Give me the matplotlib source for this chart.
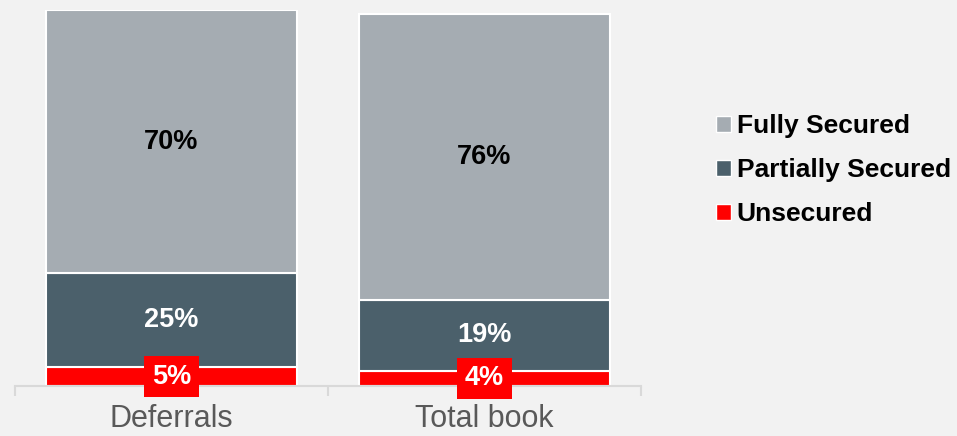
import matplotlib
matplotlib.use("Agg")
import matplotlib.pyplot as plt
from matplotlib.patches import Patch
import numpy as np

categories = ["Deferrals", "Total book"]
series_names = ["Unsecured", "Partially Secured", "Fully Secured"]
unsecured = [5, 4]
partially = [25, 19]
fully = [70, 76]

colors = {"Unsecured": "#ff0000", "Partially Secured": "#4b606b", "Fully Secured": "#a5acb2"}
bg = "#f2f2f2"
font = ["Liberation Sans", "DejaVu Sans"]
plt.rcParams["font.family"] = font

fig = plt.figure(figsize=(9.57, 4.36), dpi=100, facecolor=bg)
ax = fig.add_axes([15/957, 50/436, 626/957, 376/436], facecolor=bg)

x = np.arange(len(categories))
width = 0.8
bottom = np.zeros(len(categories))
series = [unsecured, partially, fully]
for name, vals in zip(series_names, series):
    vals = np.array(vals, dtype=float)
    ax.bar(x, vals, width, bottom=bottom, color=colors[name],
           edgecolor="white", linewidth=1.5, label=name, zorder=2)
    for xi, v, b in zip(x, vals, bottom):
        yc = b + v / 2
        if name == "Unsecured":
            ax.text(xi, yc, f"{int(v)}%", ha="center", va="center", color="white",
                    fontsize=19.5, fontweight="bold", zorder=5,
                    bbox=dict(boxstyle="square,pad=0.28", fc="#ff0000", ec="none"))
        elif name == "Partially Secured":
            ax.text(xi, yc, f"{int(v)}%", ha="center", va="center", color="white",
                    fontsize=19.5, fontweight="bold", zorder=5)
        else:
            ax.text(xi, yc, f"{int(v)}%", ha="center", va="center", color="black",
                    fontsize=19.5, fontweight="bold", zorder=5)
    bottom += vals

ax.set_xlim(-0.5, 1.5)
ax.set_ylim(0, 100)
for s in ["top", "right", "left"]:
    ax.spines[s].set_visible(False)
ax.spines["bottom"].set_color("#d9d9d9")
ax.spines["bottom"].set_linewidth(1.5)
ax.set_yticks([])
ax.set_xticks(x)
ax.set_xticklabels(categories, fontsize=22, color="#595959")
ax.tick_params(axis="x", which="major", length=0, pad=13)
ax.set_xticks([-0.5, 0.5, 1.5], minor=True)
ax.tick_params(axis="x", which="minor", length=7, width=1.5, color="#d9d9d9", direction="out")

handles = [Patch(facecolor=colors[n], edgecolor="white", linewidth=1) for n in reversed(series_names)]
leg = fig.legend(handles, list(reversed(series_names)), loc="center left",
                 bbox_to_anchor=(716/957, 1 - 170/436), frameon=False,
                 prop=dict(family=font, weight="bold", size=19),
                 handlelength=0.55, handleheight=0.55, handletextpad=0.23,
                 labelspacing=0.76, borderaxespad=0, borderpad=0)

fig.savefig("out.png", dpi=100, facecolor=bg)
